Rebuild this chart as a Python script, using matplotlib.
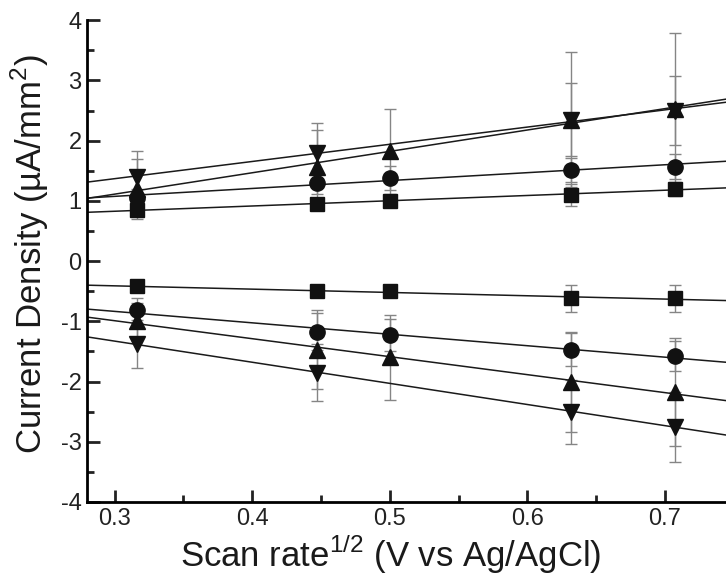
import numpy as np
import matplotlib
matplotlib.use('Agg')
from matplotlib import pyplot as plt
from matplotlib.ticker import MultipleLocator

plt.rcParams['font.family'] = 'Liberation Sans'
plt.rcParams['mathtext.fontset'] = 'custom'
plt.rcParams['mathtext.rm'] = 'Liberation Sans'
plt.rcParams['axes.unicode_minus'] = False

# scan rate^1/2 values
x_all = [0.316, 0.447, 0.500, 0.632, 0.707]
x_dn  = [0.316, 0.447, 0.632, 0.707]      # no point at 0.5 for this series

# anodic (positive) current densities
up_sq    = [0.85, 0.95, 1.00, 1.10, 1.20]
up_sq_e  = [0.08, 0.08, 0.08, 0.18, 0.12]
up_ci    = [1.05, 1.30, 1.38, 1.52, 1.57]
up_ci_e  = [0.15, 0.18, 0.20, 0.20, 0.20]
up_tu    = [1.20, 1.57, 1.82, 2.35, 2.53]
up_tu_e  = [0.50, 0.60, 0.70, 1.12, 1.25]
up_td    = [1.40, 1.80, 2.35, 2.50]
up_td_e  = [0.42, 0.50, 0.60, 0.57]

# cathodic (negative) current densities
dn_sq    = [-0.42, -0.50, -0.50, -0.62, -0.62]
dn_sq_e  = [0.08, 0.08, 0.08, 0.23, 0.22]
dn_ci    = [-0.82, -1.17, -1.23, -1.47, -1.58]
dn_ci_e  = [0.20, 0.30, 0.27, 0.27, 0.25]
dn_tu    = [-1.00, -1.47, -1.60, -2.00, -2.17]
dn_tu_e  = [0.30, 0.65, 0.70, 0.83, 0.90]
dn_td    = [-1.38, -1.85, -2.50, -2.75]
dn_td_e  = [0.40, 0.48, 0.53, 0.58]

series = [
    (x_all, up_sq, up_sq_e, 's'), (x_all, up_ci, up_ci_e, 'o'),
    (x_all, up_tu, up_tu_e, '^'), (x_dn, up_td, up_td_e, 'v'),
    (x_all, dn_sq, dn_sq_e, 's'), (x_all, dn_ci, dn_ci_e, 'o'),
    (x_all, dn_tu, dn_tu_e, '^'), (x_dn, dn_td, dn_td_e, 'v'),
]
msize = {'s': 10, 'o': 11, '^': 12, 'v': 12}

fig = plt.figure(figsize=(7.26, 5.77), dpi=100)
ax  = fig.add_axes([0.12, 0.13, 0.885, 0.835])
xlim = (0.28, 0.747)
xx   = np.array(xlim)

for x, y, e, m in series:
    ax.errorbar(x, y, yerr=e, fmt='none', ecolor='#858585', elinewidth=1,
                capsize=4, capthick=1, zorder=1)
    k, b = np.polyfit(x, y, 1)
    ax.plot(xx, k*xx + b, color='#1a1a1a', lw=1.1, zorder=2)
    ax.plot(x, y, m, color='#111111', ms=msize[m], zorder=3)

ax.set_xlim(*xlim)
ax.set_ylim(-4, 4)
ax.xaxis.set_minor_locator(MultipleLocator(0.05))
ax.yaxis.set_major_locator(MultipleLocator(1))
ax.yaxis.set_minor_locator(MultipleLocator(0.5))
ax.set_xticks([0.3, 0.4, 0.5, 0.6, 0.7])
ax.set_xticklabels(['0.3', '0.4', '0.5', '0.6', '0.7'])

for s in ['top', 'right']:
    ax.spines[s].set_visible(False)
for s in ['left', 'bottom']:
    ax.spines[s].set_linewidth(2)
ax.tick_params(which='major', direction='in', length=9, width=2,
               labelsize=17, colors='#222222', pad=4)
ax.tick_params(which='minor', direction='in', length=5, width=2, colors='#222222')

ax.set_xlabel('Scan rate$^{1/2}$ (V vs Ag/AgCl)', fontsize=25, color='#1a1a1a',
              va='baseline')
ax.set_ylabel('Current Density (µA/mm$^2$)', fontsize=25, color='#1a1a1a',
              va='baseline')
ax.xaxis.set_label_coords(0.472, -0.135)
ax.yaxis.set_label_coords(-0.07, 0.515)

fig.savefig('out.png', dpi=100)
